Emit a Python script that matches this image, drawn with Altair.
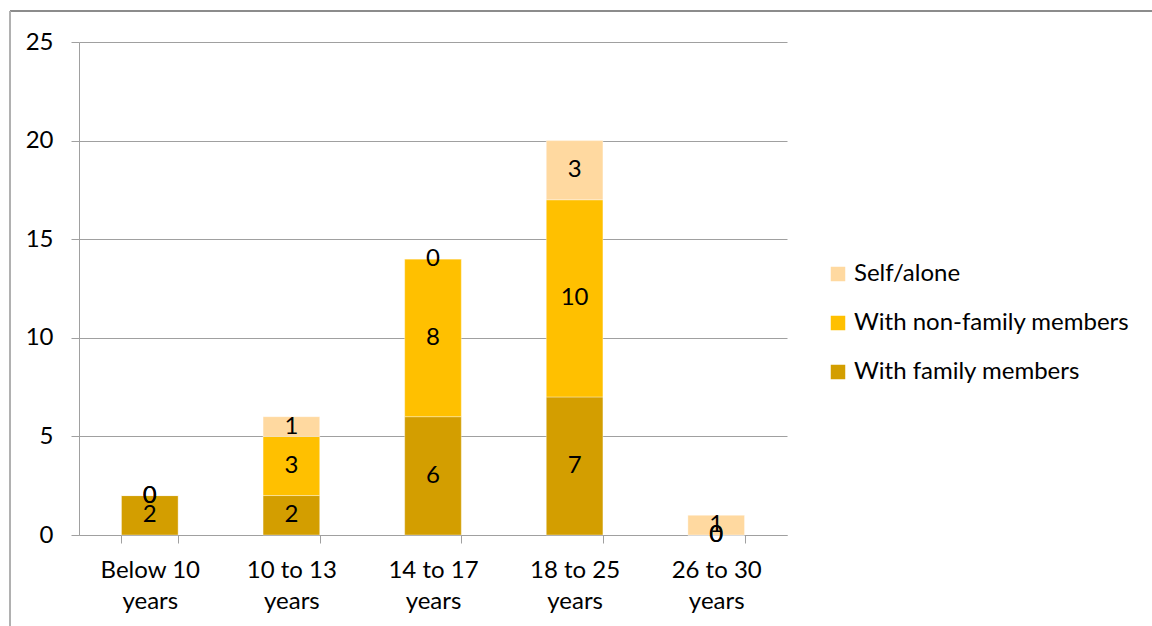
import altair as alt
import pandas as pd

categories = ["Below 10 years", "10 to 13 years", "14 to 17 years", "18 to 25 years", "26 to 30 years"]
series = ["With family members", "With non-family members", "Self/alone"]
family = [2, 2, 6, 7, 0]
non_family = [0, 3, 8, 10, 0]
self_alone = [0, 1, 0, 3, 1]
colors = ["#D39E00", "#FFC000", "#FFD9A0"]

rows = []
for i, c in enumerate(categories):
    for k, (s, vals) in enumerate(zip(series, [family, non_family, self_alone])):
        rows.append({"cat": c, "series": s, "value": vals[i], "ord": k})
df = pd.DataFrame(rows)

FONT = "Lato"
FS = 24

xenc = alt.X("cat:N", sort=categories, title=None,
             scale=alt.Scale(paddingInner=0.6, paddingOuter=0.3),
             axis=alt.Axis(tickBand="extent", labelAngle=0, domainColor="#a0a0a0",
                           tickColor="#a0a0a0", tickSize=8, labelPadding=15,
                           labelExpr="isValid(datum.value) ? [replace(datum.value, ' years', ''), 'years'] : ''",
                           labelLineHeight=31, labelBaseline="top", grid=False,
                           labelFont=FONT, labelFontSize=FS, labelColor="#000000"))

base = alt.Chart(df).transform_stack(
    stack="value", groupby=["cat"], as_=["y0", "y1"], sort=[alt.SortField("ord")]
).transform_calculate(mid="(datum.y0 + datum.y1) / 2")

yscale = alt.Scale(domain=[0, 25], nice=False)

bars = base.mark_bar(stroke="#ffffff", strokeWidth=0.6, strokeOpacity=0.6).encode(
    x=xenc,
    y=alt.Y("y0:Q", title=None, scale=yscale,
            axis=alt.Axis(values=[0, 5, 10, 15, 20, 25], gridColor="#a0a0a0",
                          domainColor="#a0a0a0", tickColor="#a0a0a0", tickSize=8,
                          labelPadding=18, labelFont=FONT, labelFontSize=FS,
                          labelColor="#000000")),
    y2="y1:Q",
    color=alt.Color("series:N", sort=["Self/alone", "With non-family members", "With family members"],
                    scale=alt.Scale(domain=["Self/alone", "With non-family members", "With family members"],
                                    range=[colors[2], colors[1], colors[0]]),
                    legend=alt.Legend(title=None, orient="none", legendX=747, legendY=220,
                                      symbolType="square", symbolSize=210, symbolStrokeWidth=0,
                                      labelFontSize=FS, labelFont=FONT, labelColor="#000000",
                                      rowPadding=25, labelLimit=400, labelOffset=4)),
)

labels = base.mark_text(font=FONT, fontSize=FS, color="#000000", baseline="middle").encode(
    x=alt.X("cat:N", sort=categories),
    y=alt.Y("mid:Q", scale=yscale),
    text=alt.Text("value:Q"),
)

frame_top = alt.Chart(df).mark_rule(color="#8c8c8c", strokeWidth=1.5).encode(
    x=alt.value(-69), x2=alt.value(1200), y=alt.value(-31))
frame_left = alt.Chart(df).mark_rule(color="#b0b0b0", strokeWidth=1).encode(
    x=alt.value(-69), y=alt.value(-31), y2=alt.value(650))

chart = alt.layer(bars, labels, frame_top, frame_left).properties(
    width=708, height=493,
    autosize=alt.AutoSizeParams(type="none"),
    padding={"left": 79, "top": 42, "right": 365, "bottom": 91},
    background="#ffffff",
).configure_view(stroke=None)

chart.save("out.html", embed_options={"renderer": "svg", "actions": False})
